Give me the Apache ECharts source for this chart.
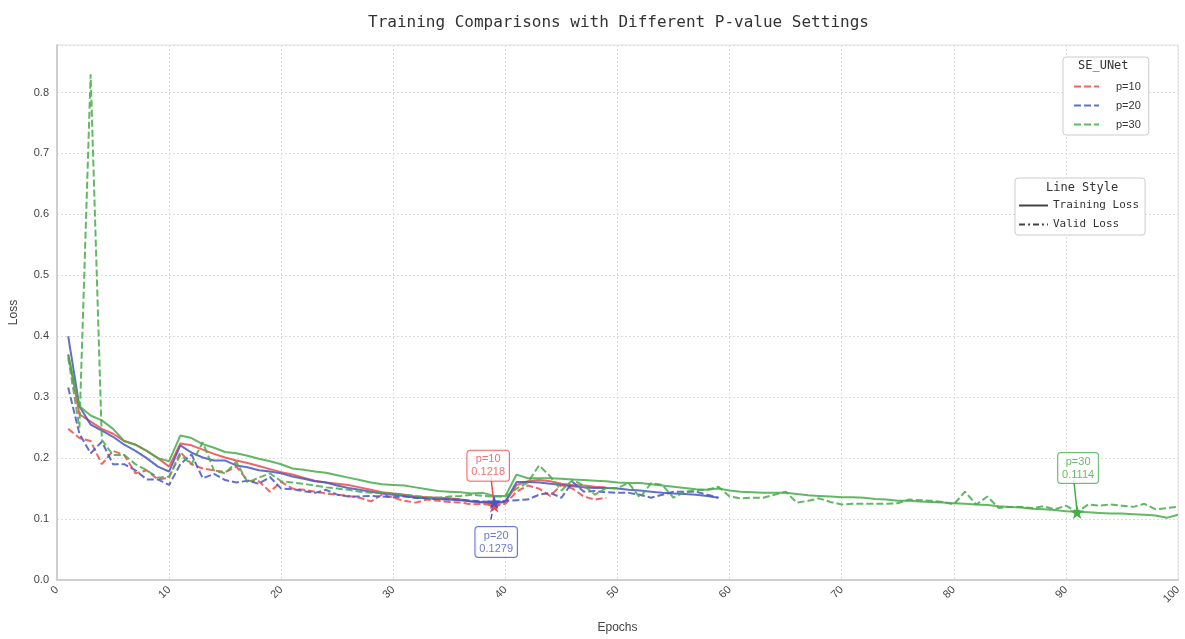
<!DOCTYPE html>
<html>
<head>
<meta charset="utf-8">
<title>Training Comparisons</title>
<script src="https://cdn.jsdelivr.net/npm/echarts@6/dist/echarts.min.js"></script>
<style>
  html, body { margin: 0; padding: 0; background: #fff; }
  #chart { width: 1185px; height: 639px; }
</style>
</head>
<body>
<div id="chart"></div>
<script>
// 各设置下的损失值（按 epoch 从 1 开始）
var p10Train = [0.37, 0.272, 0.26, 0.248, 0.24, 0.228, 0.222, 0.212, 0.2, 0.186,
    0.224, 0.221, 0.214, 0.207, 0.201, 0.196, 0.192, 0.187, 0.182, 0.177,
    0.173, 0.168, 0.163, 0.16, 0.158, 0.156, 0.152, 0.148, 0.144, 0.142,
    0.14, 0.137, 0.136, 0.135, 0.134, 0.132, 0.129, 0.128, 0.126, 0.128,
    0.156, 0.162, 0.164, 0.162, 0.158, 0.156, 0.155, 0.153, 0.152];
var p10Valid = [0.248, 0.233, 0.228, 0.19, 0.212, 0.205, 0.175, 0.18, 0.165, 0.168,
    0.21, 0.19, 0.183, 0.18, 0.177, 0.186, 0.163, 0.162, 0.145, 0.161,
    0.15, 0.148, 0.145, 0.142, 0.14, 0.138, 0.135, 0.129, 0.14, 0.135,
    0.13, 0.127, 0.132, 0.13, 0.128, 0.127, 0.124, 0.125, 0.1218, 0.125,
    0.145, 0.155, 0.15, 0.138, 0.156, 0.15, 0.137, 0.132, 0.135];
var p20Train = [0.40, 0.285, 0.255, 0.245, 0.235, 0.222, 0.212, 0.2, 0.186, 0.178,
    0.221, 0.209, 0.201, 0.196, 0.196, 0.188, 0.185, 0.18, 0.178, 0.175,
    0.17, 0.166, 0.162, 0.16, 0.155, 0.151, 0.148, 0.145, 0.142, 0.14,
    0.138, 0.135, 0.134, 0.133, 0.132, 0.131, 0.129, 0.127, 0.126, 0.129,
    0.161, 0.161, 0.16, 0.158, 0.156, 0.154, 0.152, 0.151, 0.151, 0.15,
    0.148, 0.147, 0.145, 0.143, 0.142, 0.141, 0.14, 0.138, 0.135];
var p20Valid = [0.316, 0.24, 0.208, 0.227, 0.19, 0.19, 0.18, 0.165, 0.165, 0.156,
    0.19, 0.206, 0.167, 0.174, 0.164, 0.16, 0.163, 0.158, 0.169, 0.15,
    0.149, 0.146, 0.143, 0.148, 0.14, 0.137, 0.137, 0.138, 0.137, 0.136,
    0.137, 0.135, 0.134, 0.133, 0.132, 0.132, 0.13, 0.129, 0.1279, 0.13,
    0.131, 0.132, 0.14, 0.143, 0.135, 0.161, 0.145, 0.146, 0.144, 0.143,
    0.143, 0.14, 0.135, 0.14, 0.145, 0.145, 0.145, 0.14, 0.135];
var p30Train = [0.37, 0.285, 0.27, 0.262, 0.248, 0.228, 0.222, 0.212, 0.2, 0.195,
    0.237, 0.233, 0.223, 0.217, 0.21, 0.208, 0.204, 0.199, 0.195, 0.19,
    0.183, 0.181, 0.178, 0.176, 0.172, 0.168, 0.164, 0.16, 0.157, 0.156,
    0.155, 0.152, 0.149, 0.146, 0.145, 0.144, 0.142, 0.143, 0.138, 0.138,
    0.173, 0.167, 0.167, 0.167, 0.166, 0.165, 0.164, 0.163, 0.162, 0.16,
    0.159, 0.159, 0.157, 0.155, 0.153, 0.151, 0.149, 0.148, 0.15, 0.147,
    0.145, 0.144, 0.143, 0.143, 0.143, 0.141, 0.139, 0.138, 0.137, 0.136,
    0.136, 0.135, 0.133, 0.132, 0.13, 0.13, 0.129, 0.128, 0.127, 0.126,
    0.125, 0.124, 0.123, 0.121, 0.12, 0.119, 0.117, 0.116, 0.115, 0.113,
    0.112, 0.111, 0.11, 0.109, 0.109, 0.108, 0.107, 0.106, 0.102, 0.107];
var p30Valid = [0.365, 0.25, 0.83, 0.23, 0.205, 0.205, 0.19, 0.18, 0.168, 0.17,
    0.205, 0.19, 0.226, 0.18, 0.175, 0.194, 0.16, 0.168, 0.175, 0.162,
    0.16, 0.158, 0.155, 0.152, 0.15, 0.148, 0.145, 0.143, 0.143, 0.142,
    0.14, 0.138, 0.136, 0.135, 0.137, 0.138, 0.14, 0.138, 0.137, 0.137,
    0.15, 0.16, 0.188, 0.17, 0.147, 0.164, 0.155, 0.14, 0.151, 0.151,
    0.159, 0.135, 0.159, 0.156, 0.135, 0.145, 0.147, 0.148, 0.153, 0.137,
    0.134, 0.135, 0.135, 0.14, 0.145, 0.127, 0.13, 0.134, 0.128, 0.124,
    0.125, 0.125, 0.125, 0.125, 0.126, 0.132, 0.131, 0.13, 0.128, 0.124,
    0.145, 0.124, 0.137, 0.118, 0.12, 0.12, 0.118, 0.121, 0.116, 0.122,
    0.1114, 0.124, 0.122, 0.124, 0.122, 0.12, 0.125, 0.116, 0.118, 0.12];

// 最优点（valid loss 最小值）
var bestEpoch = { p10: 39, p20: 39, p30: 91 };
var bestValue = { p10: 0.1218, p20: 0.1279, p30: 0.1114 };

var xTicks = [0, 10, 20, 30, 40, 50, 60, 70, 80, 90, 100];

var red = '#ee4a4a', blue = '#4756c2', green = '#46ab4a';
var monoFont = '"DejaVu Sans Mono", monospace';
var starPath = 'path://M50,0 L61,35 L98,35 L68,57 L79,91 L50,70 L21,91 L32,57 L2,35 L39,35 Z';

function toPairs(arr) {
    var out = [];
    for (var i = 0; i < arr.length; i++) {
        out.push([i + 1, arr[i]]);
    }
    return out;
}

function lineSeries(name, arr, color, dashed) {
    return {
        name: name,
        type: 'line',
        data: toPairs(arr),
        symbol: 'none',
        smooth: false,
        z: dashed ? 3 : 2,
        lineStyle: { color: color, width: 2, opacity: 0.85, type: dashed ? [7, 3] : 'solid' },
        itemStyle: { color: color }
    };
}

function bestMark(key, color, offset) {
    return {
        symbol: starPath,
        symbolSize: 14,
        silent: true,
        data: [{
            coord: [bestEpoch[key], bestValue[key]],
            itemStyle: { color: color },
            label: {
                show: true,
                position: 'inside',
                offset: offset,
                formatter: 'p=' + key.slice(1) + '\n' + bestValue[key],
                color: color,
                fontSize: 11,
                lineHeight: 13,
                align: 'center',
                backgroundColor: '#fff',
                borderColor: color,
                borderWidth: 1,
                borderRadius: 3,
                opacity: 0.8,
                padding: [2, 4]
            }
        }]
    };
}

function arrowLine(key, color, fromValue, dashed, curve) {
    return {
        silent: true,
        symbol: ['none', 'none'],
        label: { show: false },
        lineStyle: { color: color, width: 1.5, type: dashed ? 'dashed' : 'solid', curveness: curve },
        data: [[
            { coord: [bestEpoch[key] - 0.3, fromValue] },
            { coord: [bestEpoch[key], bestValue[key]] }
        ]]
    };
}

var s10v = lineSeries('p=10', p10Valid, red, true);
s10v.markPoint = bestMark('p10', red, [-6, -40]);
s10v.markLine = arrowLine('p10', red, 0.17, false, -0.2);
var s20v = lineSeries('p=20', p20Valid, blue, true);
s20v.markPoint = bestMark('p20', blue, [2, 40]);
s20v.markLine = arrowLine('p20', blue, 0.099, true, 0);
var s30v = lineSeries('p=30', p30Valid, green, true);
s30v.markPoint = bestMark('p30', green, [1, -44]);
s30v.markLine = arrowLine('p30', green, 0.165, false, -0.2);

var myChart = echarts.init(document.getElementById('chart'));
var option = {
    backgroundColor: '#fff',
    animation: false,
    title: {
        text: 'Training Comparisons with Different P-value Settings',
        left: 363,
        top: 10,
        textStyle: { fontFamily: monoFont, fontSize: 16, fontWeight: 'normal', color: '#333' }
    },
    grid: { left: 53, right: 7, top: 45, bottom: 49, show: true, borderColor: '#e2e2e2', borderWidth: 1 },
    legend: [{
        data: ['p=10', 'p=20', 'p=30'],
        orient: 'vertical',
        left: 1063,
        top: 57,
        width: 80,
        padding: [24, 8, 5, 10],
        itemGap: 8,
        itemWidth: 25,
        itemHeight: 10,
        selectedMode: false,
        itemStyle: { opacity: 0 },
        borderColor: '#ccc',
        borderWidth: 1,
        borderRadius: 3,
        backgroundColor: '#fff',
        textStyle: { fontSize: 11, color: '#333', padding: [0, 0, 0, 12] }
    }, {
        data: ['Training Loss', 'Valid Loss'],
        orient: 'vertical',
        left: 1015,
        top: 178,
        padding: [22, 6, 5, 3],
        itemGap: 8,
        itemWidth: 29,
        itemHeight: 10,
        selectedMode: false,
        itemStyle: { opacity: 0 },
        borderColor: '#ccc',
        borderWidth: 1,
        borderRadius: 3,
        backgroundColor: '#fff',
        textStyle: { fontSize: 11, color: '#333', fontFamily: monoFont }
    }],
    graphic: [{
        type: 'text', left: 1078, top: 60, z: 100,
        style: { text: 'SE_UNet', fontSize: 12, fontFamily: monoFont, fill: '#333' }
    }, {
        type: 'text', left: 1046, top: 182, z: 100,
        style: { text: 'Line Style', fontSize: 12, fontFamily: monoFont, fill: '#333' }
    }],
    xAxis: {
        type: 'value',
        min: 0,
        max: 100,
        interval: 10,
        name: 'Epochs',
        nameLocation: 'middle',
        nameGap: 42,
        nameTextStyle: { fontSize: 12, color: '#444' },
        axisLine: { lineStyle: { color: '#cfcfcf', width: 2 } },
        axisTick: { show: false },
        axisLabel: {
            rotate: 45, fontSize: 11, color: '#444', margin: 8,
            formatter: function (v) { return xTicks.indexOf(v) >= 0 ? String(v) : ''; }
        },
        splitLine: { show: true, lineStyle: { color: '#dcdcdc', type: [2, 2] } }
    },
    yAxis: {
        type: 'value',
        min: 0,
        max: 0.878,
        interval: 0.1,
        name: 'Loss',
        nameLocation: 'middle',
        nameGap: 37,
        nameTextStyle: { fontSize: 12, color: '#444' },
        axisLine: { show: true, lineStyle: { color: '#cfcfcf', width: 2 } },
        axisTick: { show: false },
        axisLabel: {
            fontSize: 11, color: '#444', showMaxLabel: false,
            formatter: function (v) { return v.toFixed(1); }
        },
        splitLine: { show: true, lineStyle: { color: '#dcdcdc', type: [2, 2] } }
    },
    series: [
        lineSeries('p=10 train', p10Train, red, false),
        s10v,
        lineSeries('p=20 train', p20Train, blue, false),
        s20v,
        lineSeries('p=30 train', p30Train, green, false),
        s30v,
        { name: 'Training Loss', type: 'line', data: [], symbol: 'none', itemStyle: { color: '#444' }, lineStyle: { color: '#444', width: 2 } },
        { name: 'Valid Loss', type: 'line', data: [], symbol: 'none', itemStyle: { color: '#444' }, lineStyle: { color: '#444', width: 2, type: [6, 3, 2, 3] } }
    ]
};
myChart.setOption(option);
</script>
</body>
</html>
